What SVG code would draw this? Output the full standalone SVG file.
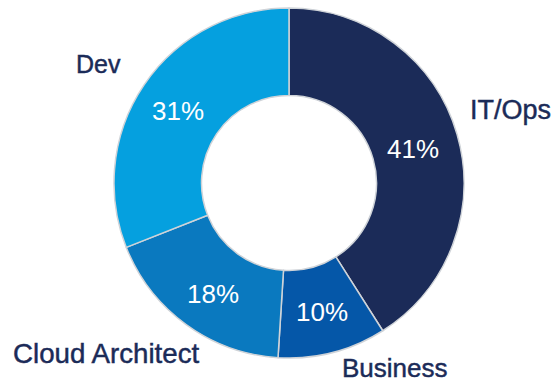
<svg xmlns="http://www.w3.org/2000/svg" width="555" height="383" viewBox="0 0 555 383">
<style>
.seg{stroke:#cfd3d8;stroke-width:1.5;stroke-linejoin:round}
.pct{font-family:"Liberation Sans",Arial,sans-serif;font-size:26px;fill:#ffffff}
.lbl{font-family:"Liberation Sans",Arial,sans-serif;font-size:26px;fill:#1b2b58;stroke:#1b2b58;stroke-width:0.45}
</style>
<rect width="555" height="383" fill="#ffffff"/>
<g id="itops">
<path class="seg" fill="#1b2b58" d="M289,8 A175,175 0 0 1 382.77,330.75 L335.88,256.88 A87.5,87.5 0 0 0 289,95.5 Z"/>
<text class="pct" x="387" y="158">41%</text>
<text class="lbl" x="470" y="119" style="font-size:27px">IT/Ops</text>
</g>
<g id="business">
<path class="seg" fill="#0557a8" d="M382.77,330.75 A175,175 0 0 1 278.01,357.65 L283.5,270.33 A87.5,87.5 0 0 0 335.88,256.88 Z"/>
<text class="pct" x="296" y="321">10%</text>
<text class="lbl" x="342" y="377">Business</text>
</g>
<g id="cloud">
<path class="seg" fill="#0a79bf" d="M278.01,357.65 A175,175 0 0 1 126.28,247.42 L207.64,215.21 A87.5,87.5 0 0 0 283.5,270.33 Z"/>
<text class="pct" x="187" y="303">18%</text>
<text class="lbl" x="13" y="363" style="font-size:27.7px">Cloud Architect</text>
</g>
<g id="dev">
<path class="seg" fill="#05a0df" d="M126.28,247.42 A175,175 0 0 1 289,8 L289,95.5 A87.5,87.5 0 0 0 207.64,215.21 Z"/>
<text class="pct" x="152" y="120">31%</text>
<text class="lbl" x="76" y="73" style="font-size:25px">Dev</text>
</g>
<g id="connectors"/>
</svg>
